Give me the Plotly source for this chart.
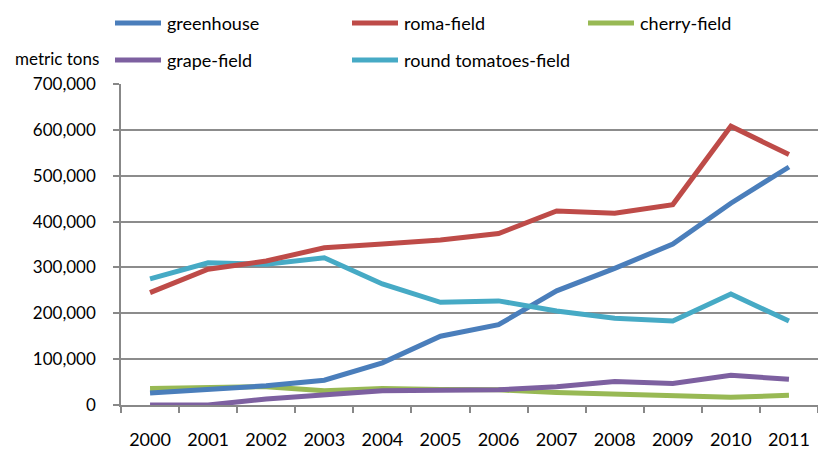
import plotly.graph_objects as go

# Annual tomato production by type, metric tons
years = ["2000", "2001", "2002", "2003", "2004", "2005",
         "2006", "2007", "2008", "2009", "2010", "2011"]
greenhouse = [26000, 33000, 42000, 54000, 92000, 150000,
              175000, 249000, 298000, 351000, 440000, 519000]
roma_field = [245000, 296000, 314000, 343000, 351000, 360000,
              374000, 423000, 418000, 437000, 608000, 546000]
cherry_field = [36000, 39000, 40000, 31000, 36000, 34000,
                33000, 27000, 24000, 21000, 17000, 21000]
grape_field = [0, 0, 13000, 22000, 31000, 32000,
               33000, 40000, 51000, 47000, 65000, 56000]
round_field = [275000, 310000, 307000, 321000, 264000, 224000,
               227000, 205000, 189000, 183000, 242000, 183000]

y_ticks = [0, 100000, 200000, 300000, 400000, 500000, 600000, 700000]

series = [
    ("greenhouse", greenhouse, "#4A7EBB"),
    ("roma-field", roma_field, "#BE4B48"),
    ("cherry-field", cherry_field, "#98B954"),
    ("grape-field", grape_field, "#7D60A0"),
    ("round tomatoes-field", round_field, "#46AAC5"),
]

# drawing order: cherry first, then grape, so purple sits over green
draw_order = ["cherry-field", "grape-field", "greenhouse", "round tomatoes-field", "roma-field"]

FONT = "Lato, Carlito, Calibri, sans-serif"

fig = go.Figure()
lookup = {name: (vals, col) for name, vals, col in series}
for name in draw_order:
    vals, col = lookup[name]
    fig.add_trace(go.Scatter(
        x=years, y=vals, mode="lines", name=name,
        line=dict(color=col, width=5),
        showlegend=False,
    ))

W, H = 818, 449
ml, mr, mt, mb = 121, 0, 84, 44
pw, ph = W - ml - mr, H - mt - mb

# hand-placed legend: two rows of swatch + label
legend_pos = [
    ("greenhouse", 115, 23),
    ("roma-field", 352, 23),
    ("cherry-field", 588, 23),
    ("grape-field", 115, 60),
    ("round tomatoes-field", 352, 60),
]
shapes = []
annotations = []
for name, px, py in legend_pos:
    col = lookup[name][1]
    yy = (H - mb - py) / ph
    shapes.append(dict(type="line", xref="paper", yref="paper",
                       x0=(px - ml) / pw, x1=(px + 46 - ml) / pw,
                       y0=yy, y1=yy,
                       line=dict(color=col, width=5)))
    annotations.append(dict(xref="paper", yref="paper",
                            x=(px + 50 - ml) / pw, y=yy,
                            text=name, showarrow=False, xanchor="left", yanchor="middle",
                            font=dict(family=FONT, size=18, color="#000000")))

annotations.append(dict(xref="paper", yref="paper",
                        x=(101 - ml) / pw,
                        y=(H - mb - 58) / ph,
                        text="metric tons", showarrow=False, xanchor="right", yanchor="middle",
                        font=dict(family=FONT, size=17, color="#000000")))

fig.update_layout(
    width=W, height=H,
    margin=dict(l=ml, r=mr, t=mt, b=mb),
    paper_bgcolor="white", plot_bgcolor="white",
    font=dict(family=FONT, size=17, color="#000000"),
    shapes=shapes,
    annotations=annotations,
    hovermode=False,
    xaxis=dict(
        type="category",
        automargin=False,
        showgrid=False,
        showline=True, linecolor="#888888", linewidth=1.5,
        ticks="outside", tickson="boundaries", ticklen=6, tickcolor="#888888", tickwidth=1.5,
        tickfont=dict(family=FONT, size=18, color="#000000"),
        ticklabelstandoff=18,
        range=[-0.5, 11.5],
        zeroline=False,
    ),
    yaxis=dict(
        automargin=False,
        range=[0, 700000],
        tickvals=y_ticks,
        tickformat=",d",
        showgrid=True, gridcolor="#8C8C8C", gridwidth=1.5,
        showline=True, linecolor="#888888", linewidth=1.5,
        ticks="outside", ticklen=6, tickcolor="#888888", tickwidth=1.5,
        ticklabelstandoff=14,
        zeroline=False,
    ),
)

fig.write_html("out.html")
